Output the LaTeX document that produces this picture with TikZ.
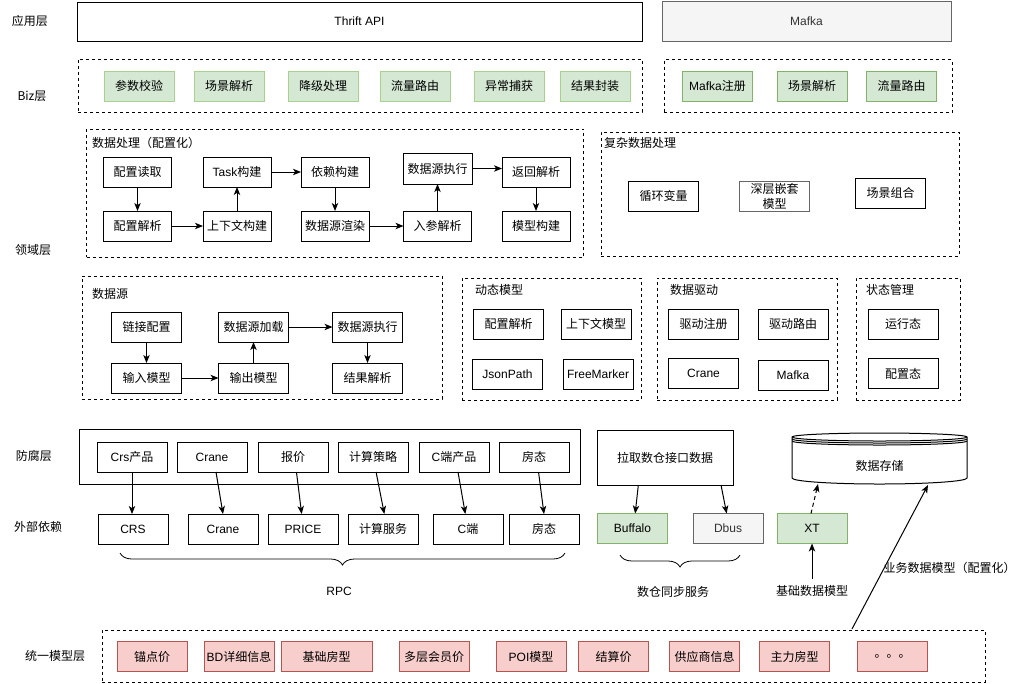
\documentclass[tikz,border=0pt]{standalone}
\usepackage{fontspec}
\setmainfont{Noto Sans CJK SC}
\newfontfamily\lat{Liberation Sans}
\usetikzlibrary{arrows.meta,decorations.pathreplacing,calc}

\definecolor{gfill}{HTML}{D5E8D4}
\definecolor{gline}{HTML}{82B366}
\definecolor{glight}{HTML}{A9D18E}
\definecolor{pfill}{HTML}{F8CECC}
\definecolor{pline}{HTML}{B85450}
\definecolor{grfill}{HTML}{F5F5F5}
\definecolor{grline}{HTML}{666666}
\definecolor{grtext}{HTML}{333333}

\begin{document}
\begin{tikzpicture}[x=0.75pt,y=-0.75pt,
  font=\fontsize{9}{11.25}\selectfont,
  every node/.style={inner sep=0pt, outer sep=0pt},
  sz/.style 2 args={minimum width=#1*0.75pt, minimum height=#2*0.75pt},
  bx/.style={draw, line width=0.75pt, sz={70}{30}},
  gbx/.style={bx, fill=gfill, draw=gline},
  glbx/.style={bx, fill=gfill, draw=glight},
  pbx/.style={bx, fill=pfill, draw=pline},
  gybx/.style={bx, fill=grfill, draw=grline, text=grtext},
  grp/.style={draw, line width=0.75pt, dash pattern=on 2.25pt off 2.25pt},
  arr/.style={line width=0.75pt, -{Stealth[length=6pt,width=4.8pt,inset=1.6pt]}},
  brc/.style={line width=0.6pt, decorate, decoration={brace, mirror, amplitude=9pt}},
  ttl/.style={anchor=west},
]
\useasboundingbox (0,0) rectangle (1024,683);

% ---- layer names ----
\node (l1) at (30,21) {应用层};
\node (l2) at (32,96) {Biz层};
\node (l3) at (33,250) {领域层};
\node (l4) at (34,456) {防腐层};
\node (l5) at (38,527) {外部依赖};
\node (l6) at (55,656) {统一模型层};

% ---- application layer ----
\node[draw, line width=0.75pt, sz={565}{39}] (thrift) at (359.5,21.5) {\lat Thrift API};
\node[draw=grline, fill=grfill, text=grtext, line width=0.75pt, sz={289}{40}] (mafkatop) at (806.5,21) {\lat Mafka};

% ---- biz layer ----
\node[grp, sz={564}{53}] (bizl) at (360,85.5) {};
\node[glbx] (bz1) at (139,86) {参数校验};
\node[glbx] (bz2) at (229,86) {场景解析};
\node[glbx] (bz3) at (323,86) {降级处理};
\node[glbx] (bz4) at (415,86) {流量路由};
\node[glbx] (bz5) at (509,86) {异常捕获};
\node[glbx] (bz6) at (595,86) {结果封装};

\node[grp, sz={288}{53}] (bizr) at (808,86) {};
\node[gbx] (bm1) at (717.5,86) {{\lat Mafka}注册};
\node[gbx] (bm2) at (812,86) {场景解析};
\node[gbx] (bm3) at (901.5,86) {流量路由};

% ---- domain: configurable data processing ----
\node[grp, sz={497}{128}] (dp) at (335,193) {};
\node[ttl] (dpt) at (92,143) {数据处理（配置化）};
\node[bx, sz={68}{30}] (a1) at (137.5,172) {配置读取};
\node[bx, sz={68}{30}] (a2) at (137.5,226) {配置解析};
\node[bx, sz={68}{30}] (b1) at (237,172) {{\lat Task}构建};
\node[bx, sz={68}{30}] (b2) at (237,226) {上下文构建};
\node[bx, sz={68}{30}] (c1) at (335,172) {依赖构建};
\node[bx, sz={68}{30}] (c2) at (335,226) {数据源渲染};
\node[bx, sz={69}{31}] (d1) at (437.5,168.5) {数据源执行};
\node[bx, sz={68}{30}] (d2) at (437.5,226) {入参解析};
\node[bx, sz={68}{30}] (e1) at (536,172) {返回解析};
\node[bx, sz={68}{30}] (e2) at (536,226) {模型构建};

\draw[arr] (a1) -- (a2);
\draw[arr] (a2) -- (b2);
\draw[arr] (b2) -- (b1);
\draw[arr] (b1) -- (c1);
\draw[arr] (c1) -- (c2);
\draw[arr] (c2) -- (d2);
\draw[arr] (d2) -- (d1);
\draw[arr] (d1.east) -- (d1.east -| e1.west);
\draw[arr] (e1) -- (e2);

% ---- domain: complex data processing ----
\node[grp, sz={358}{124}] (cx) at (780,194) {};
\node[ttl] (cxt) at (604,143) {复杂数据处理};
\node[bx] (x1) at (663.5,196) {循环变量};
\node[bx, draw=grline, align=center] (x2) at (774.5,196) {深层嵌套\\模型};
\node[bx] (x3) at (890.5,193) {场景组合};

% ---- domain: data source ----
\node[grp, sz={360}{123}] (ds) at (262,337.5) {};
\node[ttl] (dst) at (92,294) {数据源};
\node[bx] (s1) at (146.5,327) {链接配置};
\node[bx] (s2) at (146.5,378) {输入模型};
\node[bx] (s3) at (253.5,327) {数据源加载};
\node[bx] (s4) at (253.5,378) {输出模型};
\node[bx] (s5) at (367.5,327) {数据源执行};
\node[bx] (s6) at (367.5,378) {结果解析};
\draw[arr] (s1) -- (s2);
\draw[arr] (s2) -- (s4);
\draw[arr] (s4) -- (s3);
\draw[arr] (s3) -- (s5);
\draw[arr] (s5) -- (s6);

% ---- domain: dynamic model ----
\node[grp, sz={179}{122}] (dm) at (551.5,339) {};
\node[ttl] (dmt) at (475,290) {动态模型};
\node[bx] (m1) at (508.5,324) {配置解析};
\node[bx] (m2) at (596,324) {上下文模型};
\node[bx] (m3) at (507.5,374) {\lat JsonPath};
\node[bx] (m4) at (598,374) {\lat FreeMarker};

% ---- domain: data driven ----
\node[grp, sz={180}{122}] (dd) at (747,339) {};
\node[ttl] (ddt) at (670,290) {数据驱动};
\node[bx] (r1) at (703.5,324) {驱动注册};
\node[bx] (r2) at (793,324) {驱动路由};
\node[bx] (r3) at (703.5,373.5) {\lat Crane};
\node[bx] (r4) at (793,375) {\lat Mafka};

% ---- domain: state management ----
\node[grp, sz={104}{122}] (sm) at (908,339) {};
\node[ttl] (smt) at (866,290) {状态管理};
\node[bx] (t1) at (903,324) {运行态};
\node[bx] (t2) at (903,373.5) {配置态};

% ---- anti-corruption layer ----
\node[draw, line width=0.75pt, sz={501}{55}] (acl) at (329.5,456.5) {};
\node[bx] (p1) at (132,457) {{\lat Crs}产品};
\node[bx] (p2) at (212,457) {\lat Crane};
\node[bx] (p3) at (293,457) {报价};
\node[bx] (p4) at (373,457) {计算策略};
\node[bx] (p5) at (454,457) {{\lat C}端产品};
\node[bx] (p6) at (534,457) {房态};

% ---- external dependencies ----
\node[bx] (q1) at (133,529) {\lat CRS};
\node[bx] (q2) at (223,529) {\lat Crane};
\node[bx] (q3) at (303,529) {\lat PRICE};
\node[bx] (q4) at (383,529) {计算服务};
\node[bx] (q5) at (468,529) {{\lat C}端};
\node[bx] (q6) at (544,529) {房态};

\draw[arr] (p1.south) -- (p1.south |- q1.north);
\draw[arr] ([xshift=3pt]p2.south) -- (q2.north);
\draw[arr] ([xshift=2.6pt]p3.south) -- ([xshift=-1pt]q3.north);
\draw[arr] ([xshift=2.3pt]p4.south) -- ([xshift=1pt]q4.north);
\draw[arr] ([xshift=3pt]p5.south) -- ([xshift=-2pt]q5.north);
\draw[arr] ([xshift=3.4pt]p6.south) -- (q6.north);

\draw[brc] (120,553) -- (565,553);
\node (rpc) at (339,591) {\lat RPC};

% ---- data warehouse sync ----
\node[draw, line width=0.75pt, sz={136}{55}] (pull) at (665,457.5) {拉取数仓接口数据};
\node[gbx] (buf) at (632.5,528.5) {\lat Buffalo};
\node[gybx] (dbus) at (728,528.5) {\lat Dbus};
\node[gbx] (xt) at (812,528.5) {\lat XT};
\draw[arr] ([xshift=-20pt]pull.south) -- ([xshift=2pt]buf.north);
\draw[arr] ([xshift=42pt]pull.south) -- ([xshift=-1pt]dbus.north);

\draw[brc] (620,555) -- (740,555);
\node (sync) at (673,592) {数仓同步服务};

% ---- data storage ----
\draw[line width=0.75pt, fill=white]
  (792,437) -- (792,478)
  arc[start angle=180, end angle=360, x radius=65.625pt, y radius=4.5pt]
  -- (967,437)
  arc[start angle=0, end angle=180, x radius=65.625pt, y radius=3pt] -- cycle;
\draw[line width=0.75pt] (792,437) arc[start angle=180, end angle=360, x radius=65.625pt, y radius=3pt];
\draw[line width=0.75pt] (792,439) arc[start angle=180, end angle=360, x radius=65.625pt, y radius=3pt];
\draw[line width=0.75pt] (792,441) arc[start angle=180, end angle=360, x radius=65.625pt, y radius=3pt];
\node (store) at (879.5,466) {数据存储};
\coordinate (storein1) at (818,484);
\coordinate (storein2) at (928,485);

\draw[arr, dashed, dash pattern=on 3pt off 2.25pt] ([xshift=-0.75pt]xt.north) -- (storein1);
\node[inner sep=5pt] (basem) at (812,591) {基础数据模型};
\draw[arr] (basem.north) -- (xt.south);

% ---- unified model layer ----
\node[grp, sz={883}{52}] (um) at (543.5,656) {};
\node[pbx] (u1) at (152,656.5) {锚点价};
\node[pbx] (u2) at (239,656.5) {{\lat BD}详细信息};
\node[pbx, sz={91}{30}] (u3) at (326.5,656.5) {基础房型};
\node[pbx] (u4) at (434,656.5) {多层会员价};
\node[pbx] (u5) at (531,656.5) {{\lat POI}模型};
\node[pbx] (u6) at (613.5,656.5) {结算价};
\node[pbx] (u7) at (704.5,656.5) {供应商信息};
\node[pbx] (u8) at (794.5,656.5) {主力房型};
\node[pbx] (u9) at (892.5,656.5) {。。。};

\coordinate (umtop) at (852,629);
\draw[arr] (umtop) -- (storein2);
\node (bizm) at (949.5,568) {业务数据模型（配置化）};
\end{tikzpicture}
\end{document}
